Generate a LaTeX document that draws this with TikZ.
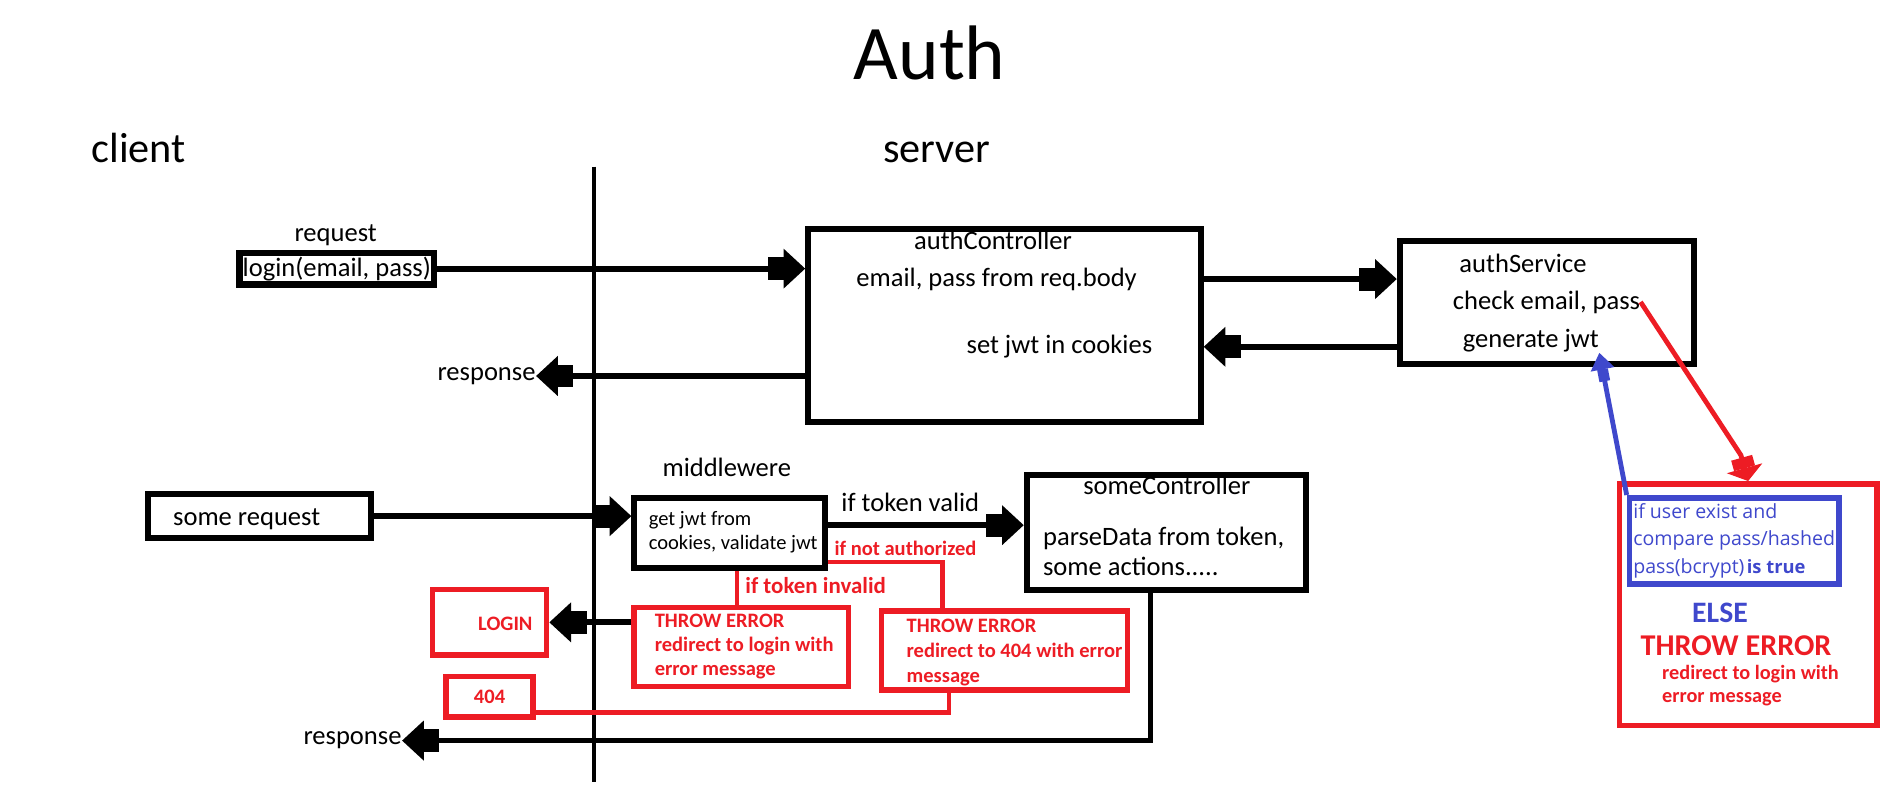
\documentclass[tikz,border=0pt]{standalone}
\usepackage{fontspec}
\setmainfont{Carlito}
\newfontfamily\segoe{Open Sans}
\usetikzlibrary{arrows.meta}
\definecolor{errred}{RGB}{237,28,36}
\definecolor{okblue}{RGB}{63,72,204}
\begin{document}
\begin{tikzpicture}[
        x=0.5pt, y=-0.5pt,
        box/.style = {draw, line width=2.5pt, inner sep=0pt},
        redbox/.style = {draw=errred, line width=2.3pt, inner sep=0pt},
        bluebox/.style = {draw=okblue, line width=2.3pt, inner sep=0pt},
        txt/.style = {inner sep=0pt, font=\fontsize{11}{12.7}\selectfont},
        smalltxt/.style = {inner sep=0pt, align=left, font=\fontsize{8.5}{10.25}\selectfont},
        errtxt/.style = {inner sep=0pt, align=left, text=errred, font=\bfseries\fontsize{8.5}{9.9}\selectfont},
        arr/.style = {line width=2.4pt, -{Rectangle[length=6.5pt,width=9.5pt,sep=0pt]Triangle[length=9pt,width=16pt]}},
        redline/.style = {draw=errred, line width=2pt},
        blueline/.style = {draw=okblue, line width=2pt}
    ]
        \useasboundingbox (0,0) rectangle (1568,665);
        \node[inner sep=0pt, anchor=base, font=\fontsize{32}{38}\selectfont] (title) at (770,66) {Auth};
        \node[inner sep=0pt, anchor=base, font=\fontsize{17.5}{21}\selectfont] (client) at (115,135) {client};
        \node[inner sep=0pt, anchor=base, font=\fontsize{17.5}{21}\selectfont] (server) at (776,135) {server};
        \coordinate (divtop) at (492,138);
        \coordinate (divbot) at (492,648);
        \draw[line width=1.75pt] (divtop) -- (divbot);

        \node[txt, anchor=base] (request) at (278,200) {request};
        \node[box, txt, line width=2.6pt, minimum width=80.7pt, minimum height=13.2pt] (loginbox) at (279,222.5) {login(email, pass)};
        \node[box, minimum width=162.5pt, minimum height=80pt] (authctrl) at (832,269.5) {};
        \node[txt, anchor=base] (actitle) at (822.5,207) {authController};
        \node[txt, anchor=base] (emailpass) at (825.5,237) {email, pass from req.body};
        \node[txt, anchor=base] (setjwt) at (877.5,293) {set jwt in cookies};
        \node[box, minimum width=122pt, minimum height=51pt] (authsvc) at (1281.5,250.5) {};
        \node[txt, anchor=base] (astitle) at (1261.5,226) {authService};
        \node[txt, anchor=base] (checkep) at (1281,256) {check email, pass};
        \node[txt, anchor=base] (genjwt) at (1268,288) {generate jwt};
        \draw[arr] (loginbox.east) -- (loginbox.east -| authctrl.west);
        \draw[arr] (authctrl.east |- emailpass) -- (authsvc.west |- emailpass);
        \draw[arr] (authsvc.west |- setjwt) -- (authctrl.east |- setjwt);
        \node[txt, anchor=base east] (resp1) at (444,315) {response};
        \draw[arr] (authctrl.west |- resp1.east) -- (resp1.east);

        \node[txt, anchor=base] (mwtitle) at (602,395) {middlewere};
        \node[box, minimum width=79pt, minimum height=29pt] (mw) at (604.5,441.5) {};
        \node[smalltxt, anchor=base west] (mwtext) at (537,455.5) {get jwt from\\cookies, validate jwt};
        \node[box, minimum width=92.5pt, minimum height=18pt] (somereq) at (215,427.5) {};
        \node[txt, anchor=base west] (srtext) at (143,435) {some request};
        \draw[arr] (somereq.east) -- (somereq.east -| mw.west);
        \node[box, minimum width=115.5pt, minimum height=47.5pt] (somectrl) at (966,441) {};
        \node[txt, anchor=base] (sctitle) at (966.5,410) {someController};
        \node[txt, anchor=base west, align=left] (sctext) at (863.6,477) {parseData from token,\\some actions.....};
        \draw[arr] ([yshift=3.25pt]mw.east) -- ([yshift=3.25pt]mw.east -| somectrl.west) node[txt, pos=0.42, above=4.5pt] (tokvalid) {if token valid};

        \node[redbox, minimum width=88.7pt, minimum height=32.7pt] (err1) at (614,536) {};
        \node[errtxt, anchor=base west] (err1text) at (542,559.5) {THROW ERROR\\redirect to login with\\error message};
        \node[redbox, minimum width=102pt, minimum height=32.7pt] (err2) at (832,539) {};
        \node[errtxt, anchor=base west, font=\bfseries\fontsize{8.5}{10.25}\selectfont] (err2text) at (750.6,565) {THROW ERROR\\redirect to 404 with error\\message};
        \node[redbox, minimum width=47.2pt, minimum height=27.2pt] (loginpg) at (405.5,515.5) {};
        \node[errtxt, anchor=base] (logintext) at (418.6,522) {LOGIN};
        \node[redbox, errtxt, minimum width=36.2pt, minimum height=16.7pt] (nfpg) at (405.5,577) {404};
        \draw[redline] ([xshift=3pt]mw.south) -- ([xshift=3pt]mw.south |- err1.north);
        \node[anchor=base west, inner sep=0pt, text=errred, font=\bfseries\fontsize{9.5}{11}\selectfont] (tokinvalid) at (617,491.5) {if token invalid};
        \draw[redline] ([yshift=-12pt]mw.east) -| ([xshift=-25.5pt]err2.north);
        \node[errtxt, anchor=base] (notauth) at (750,460) {if not authorized};
        \draw[redline] ([xshift=-23pt]err2.south) |- ([yshift=-6.5pt]nfpg.east);
        \draw[arr] (err1.west |- loginpg.east) -- (loginpg.east);
        \node[txt, anchor=base east] (resp2) at (333,617) {response};
        \draw[arr] ([xshift=-6.5pt]somectrl.south) |- (resp2.east);

        \node[redbox, minimum width=106.7pt, minimum height=100pt] (elsebox) at (1448,500.75) {};
        \node[bluebox, minimum width=86.7pt, minimum height=35.7pt] (okbox) at (1436.4,448) {};
        \node[anchor=base west, inner sep=0pt, align=left, text=okblue, font=\segoe\fontsize{8.1}{11.4}\selectfont] (oktext) at (1352.5,475) {if user exist and\\compare pass/hashed\\pass(bcrypt)\kern1pt{\bfseries\fontsize{7.6}{11.4}\selectfont is true}};
        \node[anchor=base, inner sep=0pt, text=okblue, font=\bfseries\fontsize{12.3}{14}\selectfont] (elsetext) at (1424.7,516) {ELSE};
        \node[anchor=base, inner sep=0pt, text=errred, font=\bfseries\fontsize{12.5}{15}\selectfont] (bigerr) at (1438,543) {THROW ERROR};
        \node[errtxt, anchor=base west, font=\bfseries\fontsize{8.4}{9.5}\selectfont] (bigerrtext) at (1376.4,582) {redirect to login with\\error message};
        \coordinate (bend) at (1442,377);
        \draw[redline, -{Rectangle[length=4.5pt,width=9pt,sep=0pt]Triangle[length=5.5pt,width=15pt]}] (checkep.east) -- (bend) -- (elsebox.north);
        \draw[blueline, -{Rectangle[length=5pt,width=4.5pt,sep=0pt]Triangle[length=7pt,width=9.5pt]}] (okbox.north west) -- (genjwt.south east);
    \end{tikzpicture}
\end{document}
